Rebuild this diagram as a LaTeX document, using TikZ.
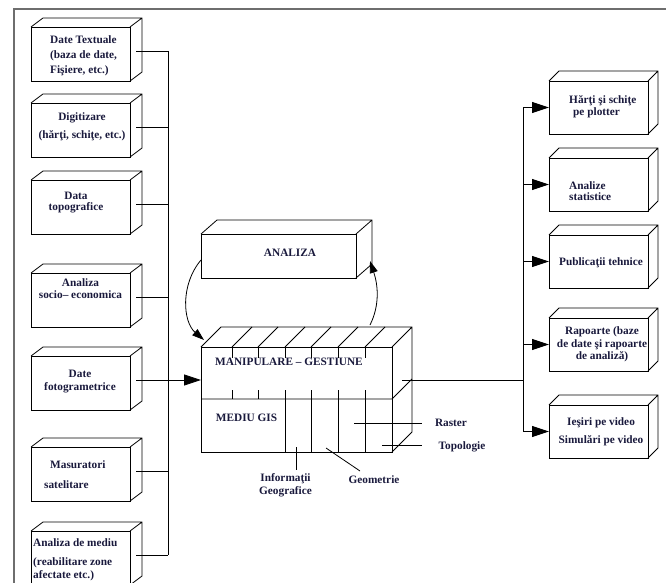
\documentclass[tikz,border=0pt]{standalone}
\usepackage{fontspec}
\setmainfont{Liberation Serif}
\usetikzlibrary{calc,arrows.meta}
\definecolor{txt}{RGB}{25,25,60}
\definecolor{framegray}{RGB}{110,110,110}
% label font with a chosen line spacing
\newcommand\txtsz[1]{\fontsize{11.3}{#1}\selectfont\bfseries}
% top and side faces of a box drawn as a cuboid: node, depth right, depth up
\newcommand\cubeside[3]{%
  \draw[ln] (#1.north west) -- ++(#2,-#3) -- ($(#1.north east)+(#2,-#3)$)
    -- ($(#1.south east)+(#2,-#3)$) -- (#1.south east)
    (#1.north east) -- ++(#2,-#3);}
\begin{document}
\begin{tikzpicture}[x=1pt,y=-1pt,
  ln/.style={draw=black, line width=0.8pt},
  cube/.style={ln, minimum width=99pt, minimum height=54pt, inner sep=0pt, outer sep=0pt},
  rcube/.style={cube, minimum height=53pt},
  lbl/.style={text=txt, inner sep=0pt, font=\txtsz{13}},
  tip/.style={-{Triangle[length=17pt,width=11pt]}},
  ctip/.style={-{Triangle[length=12pt,width=8pt]}}]
\useasboundingbox (0,0) rectangle (666,583);
\clip (0,0) rectangle (666,583);

% frame
\draw[framegray, line width=1.5pt] (666,9) -- (14,9) -- (14,583);

% input sources
\node[cube] (b1) at (80.5,54) {};
\node[cube] (b2) at (80.5,130) {};
\node[cube] (b3) at (80.5,207) {};
\node[cube] (b4) at (80.5,300) {};
\node[cube] (b5) at (80.5,383) {};
\node[cube] (b6) at (80.5,474) {};
\node[cube] (b7) at (80.5,558) {};
\foreach \b in {b1,b2,b3,b4,b5,b6,b7} {\cubeside{\b}{12}{9}}

% outputs
\node[rcube] (r1) at (598.5,107.5) {};
\node[rcube] (r2) at (598.5,184.5) {};
\node[rcube] (r3) at (598.5,261.5) {};
\node[rcube] (r4) at (598.5,344.5) {};
\node[rcube] (r5) at (598.5,431.5) {};
\foreach \b in {r1,r2,r3,r4,r5} {\cubeside{\b}{10}{10}}

% analysis block
\node[ln, minimum width=155pt, minimum height=44pt, inner sep=0pt, outer sep=0pt] (an) at (278.5,256) {};
\cubeside{an}{16}{14}

% GIS environment block
\node[ln, minimum width=191pt, minimum height=105pt, inner sep=0pt, outer sep=0pt] (gis) at (296.5,399.5) {};
\cubeside{gis}{20}{20}
\draw[ln] (gis.west |- 0,399) -- (gis.east |- 0,399) -- ++(20,-20);
\foreach \x in {232,258,285,311,338,365} {\draw[ln] (\x,347) -- ++(20,-20);}
\foreach \x in {232,258} {\draw[ln] (\x,347) -- (\x,358) (\x,390) -- (\x,399);}
\foreach \x in {285,311,338,365} {\draw[ln] (\x,347) -- (\x,358) (\x,390) -- (\x,452);}

% callouts of the GIS layers
\draw[ln] (296,447) -- (296,470);
\draw[ln] (326,448) -- (360,471);
\draw[ln] (354,423) -- (422,423);
\draw[ln] (382,445) -- (422,445);

% input bus
\coordinate (busL) at (168,0);
\foreach \b in {b1,b2,b3,b4,b5,b6,b7} {\coordinate (\b s) at ($(\b.east)+(6,-3)$);}
\draw[ln] (b1s -| busL) -- (b7s -| busL);
\foreach \b in {b1,b2,b3,b4,b6,b7} {\draw[ln] (\b s) -- (\b s -| busL);}
\draw[ln, tip] (b5s) -- (b5s -| gis.west);

% output bus
\coordinate (busR) at (523,0);
\coordinate (gout) at ($(gis.east)+(10,-19.5)$);
\draw[ln] (gout) -- (gout -| busR);
\draw[ln] (r1.west -| busR) -- (r5.west -| busR);
\foreach \b in {r1,r2,r3,r4,r5} {\draw[ln, tip] (\b.west -| busR) -- (\b.west);}

% exchange between analysis and GIS
\draw[ln, ctip] ($(an.west)+(0,4)$) .. controls (180,285) and (183,322) .. ($(gis.north west)+(3,-7)$);
\draw[ln, ctip] ($(gis.north west)+(169,-22)$) .. controls (380,305) and (378,285) .. ($(an.south east)+(14,-17)$);

% texts of the sources
\node[lbl, font=\txtsz{15}, align=left, anchor=west] (t1) at (50,56) {Date Textuale\\(baza de date,\\Fişiere, etc.)};
\node[lbl, font=\txtsz{18}, align=center] (t2) at (82,127) {Digitizare\\(hărţi, schiţe, etc.)};
\node[lbl, font=\txtsz{11}, align=center] (t3) at (76,202.5) {Data\\topografice};
\node[lbl, font=\txtsz{12}, align=center] (t4) at (80.5,289) {Analiza\\socio– economica};
\node[lbl, font=\txtsz{13}, align=center] (t5) at (80,381.5) {Date\\fotogrametrice};
\node[lbl, font=\txtsz{20}, align=left, anchor=west] (t6) at (44,475) {\hspace{6pt}Masuratori\\satelitare};
\node[lbl, font=\txtsz{13}, align=left, anchor=west] (t7) at (33,560) {Analiza de mediu\\[6pt](reabilitare zone\\afectate etc.)};

% texts of the outputs
\node[lbl, font=\txtsz{12}, align=left, anchor=west] (rt1) at (569,107) {Hărţi şi schiţe\\\hspace{4pt}pe plotter};
\node[lbl, font=\txtsz{10.5}, align=left, anchor=west] (rt2) at (569,191) {Analize\\statistice};
\node[lbl] (rt3) at (601,263) {Publicaţii tehnice};
\node[lbl, font=\txtsz{12.5}, align=center] (rt4) at (602,344.5) {Rapoarte (baze\\de date şi rapoarte\\de analiză)};
\node[lbl, font=\txtsz{18}, align=center] (rt5) at (601,432) {Ieşiri pe video\\Simulări pe video};

% texts of the central blocks
\node[lbl] (ta) at (290,253) {ANALIZA};
\node[lbl] (tm) at (289,362) {MANIPULARE – GESTIUNE};
\node[lbl] (tg) at (246.5,418) {MEDIU GIS};
\node[lbl, font=\txtsz{13}, align=center] (ti) at (285.5,485.5) {Informaţii\\Geografice};
\node[lbl] (tge) at (374,480) {Geometrie};
\node[lbl] (tr) at (451,423) {Raster};
\node[lbl] (tt) at (462,447) {Topologie};
\end{tikzpicture}
\end{document}
